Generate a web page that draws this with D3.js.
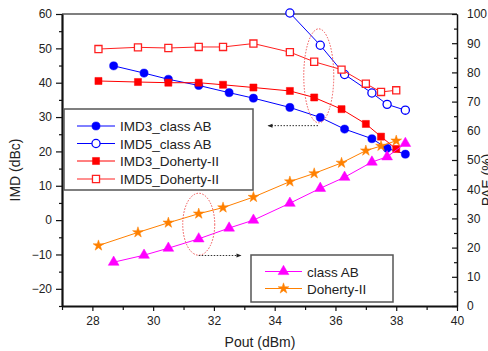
<!DOCTYPE html>
<html>
<head>
<meta charset="utf-8">
<script src="https://cdn.jsdelivr.net/npm/d3@7"></script>
<style>
  body { margin: 0; background: #fff; }
  svg { display: block; font-family: "Liberation Sans", Arial, sans-serif; }
  .axis text { font-size: 12px; fill: #222; }
</style>
</head>
<body>
<svg></svg>
<script>
// Pout sweep points (dBm)
const poutAB = [28.7, 29.7, 30.5, 31.5, 32.5, 33.3, 34.5, 35.5, 36.3, 37.2, 37.7, 38.3]
const poutDoh = [28.2, 29.5, 30.5, 31.5, 32.3, 33.3, 34.5, 35.3, 36.2, 37.0, 37.5, 38.0]
const poutAB5 = [34.5, 35.5, 36.3, 37.2, 37.7, 38.3]

// IMD (dBc)
const imd3AB = [44.9, 42.8, 41.0, 39.2, 37.1, 35.5, 32.8, 29.9, 26.5, 23.7, 20.9, 19.2]
const imd5AB = [60.3, 50.9, 42.4, 37.0, 33.7, 32.0]
const imd3Doh = [40.5, 40.2, 40.0, 40.0, 39.4, 38.6, 37.6, 35.7, 32.3, 28.0, 24.3, 20.7]
const imd5Doh = [49.8, 50.3, 50.1, 50.4, 50.4, 51.4, 48.9, 46.1, 43.8, 39.7, 37.3, 37.8]

// PAE (%)
const paeAB = [15.0, 17.4, 19.8, 23.0, 26.7, 29.4, 35.2, 40.3, 44.1, 49.3, 51.1, 55.7]
const paeDoh = [20.7, 25.2, 28.5, 31.6, 33.7, 37.3, 42.6, 45.4, 49.0, 53.2, 54.8, 56.6]

const xTicks = [28, 30, 32, 34, 36, 38, 40]
const yTicks = [-20, -10, 0, 10, 20, 30, 40, 50, 60]
const y2Ticks = [0, 10, 20, 30, 40, 50, 60, 70, 80, 90, 100]

const legend1 = ["IMD3_class AB", "IMD5_class AB", "IMD3_Doherty-II", "IMD5_Doherty-II"]
const legend2 = ["class AB", "Doherty-II"]

const width = 488, height = 351
const margin = { top: 14, right: 31, bottom: 45, left: 62 }

const svg = d3.select('svg').attr('width', width).attr('height', height)

const x = d3.scaleLinear().domain([27, 40]).range([margin.left, width - margin.right])
const y = d3.scaleLinear().domain([-25, 60]).range([height - margin.bottom, margin.top])
const y2 = d3.scaleLinear().domain([0, 100]).range([height - margin.bottom, margin.top])

const plotR = width - margin.right, plotB = height - margin.bottom

// top border
svg.append('line').attr('x1', margin.left).attr('x2', plotR)
    .attr('y1', margin.top).attr('y2', margin.top)
    .attr('stroke', '#555').attr('stroke-width', 1.5)

// minor ticks
const minor = (axis, vals) => axis.tickValues(vals).tickFormat('').tickSizeOuter(0)
svg.append('g').attr('class', 'axis').attr('transform', `translate(${margin.left},0)`)
    .call(minor(d3.axisLeft(y).tickSize(3), d3.range(-25, 61, 5).filter(v => v % 10 !== 0)))
svg.append('g').attr('class', 'axis').attr('transform', `translate(0,${plotB})`)
    .call(minor(d3.axisBottom(x).tickSize(4), d3.range(27, 40, 2)))
svg.append('g').attr('class', 'axis').attr('transform', `translate(${plotR},0)`)
    .call(minor(d3.axisRight(y2).tickSize(-3), d3.range(5, 100, 10)))

// major axes
const yAxis = svg.append('g').attr('class', 'axis').attr('transform', `translate(${margin.left},0)`)
    .call(d3.axisLeft(y).tickValues(yTicks).tickSize(6).tickSizeOuter(0).tickPadding(4))
const xAxis = svg.append('g').attr('class', 'axis').attr('transform', `translate(0,${plotB})`)
    .call(d3.axisBottom(x).tickValues(xTicks).tickSize(5).tickSizeOuter(0).tickPadding(5))
const y2Axis = svg.append('g').attr('class', 'axis').attr('transform', `translate(${plotR},0)`)
    .call(d3.axisRight(y2).tickValues(y2Ticks).tickSize(-5).tickSizeOuter(0).tickPadding(10))

svg.selectAll('.axis .domain').attr('stroke', '#111')
svg.selectAll('.axis line').attr('stroke', '#111').attr('stroke-width', 1.2)
yAxis.select('.domain').attr('stroke-width', 2.2)
xAxis.select('.domain').attr('stroke-width', 2.2)
y2Axis.select('.domain').attr('stroke-width', 1.5)

// axis titles
svg.append('text').attr('transform', `translate(20,170) rotate(-90)`)
    .attr('text-anchor', 'middle').attr('font-size', 14).attr('fill', '#222').text('IMD (dBc)')
svg.append('text').attr('x', 260).attr('y', 347)
    .attr('text-anchor', 'middle').attr('font-size', 14).attr('fill', '#222').text('Pout (dBm)')
svg.append('text').attr('transform', `translate(492,180) rotate(-90)`)
    .attr('text-anchor', 'middle').attr('font-size', 14).attr('fill', '#222').text('PAE (%)')

// series
const series = [
    { xs: poutAB, ys: imd3AB, sc: y, color: '#0000ff', sym: d3.symbolCircle, size: 52, open: false },
    { xs: poutAB5, ys: imd5AB, sc: y, color: '#0000ff', sym: d3.symbolCircle, size: 52, open: true },
    { xs: poutDoh, ys: imd3Doh, sc: y, color: '#ff0000', sym: d3.symbolSquare, size: 50, open: false },
    { xs: poutDoh, ys: imd5Doh, sc: y, color: '#ff2020', sym: d3.symbolSquare, size: 50, open: true },
    { xs: poutAB, ys: paeAB, sc: y2, color: '#ff00ff', sym: d3.symbolTriangle, size: 50, open: false },
    { xs: poutDoh, ys: paeDoh, sc: y2, color: '#ff8000', sym: d3.symbolStar, size: 36, open: false }
]

series.forEach(s => {
    const pts = s.xs.map((v, i) => [x(v), s.sc(s.ys[i])])
    svg.append('path').attr('d', d3.line()(pts))
        .attr('fill', 'none').attr('stroke', s.color).attr('stroke-width', 1)
    svg.append('g').selectAll('path').data(pts).join('path')
        .attr('transform', d => `translate(${d[0]},${d[1]})`)
        .attr('d', d3.symbol(s.sym, s.size))
        .attr('fill', s.open ? '#fff' : s.color)
        .attr('stroke', s.color).attr('stroke-width', s.open ? 1.3 : 0.5)
})

// annotations: dotted ellipses and arrows
const defs = svg.append('defs')
defs.append('marker').attr('id', 'arr')
    .attr('viewBox', '0 0 10 10').attr('refX', 9).attr('refY', 5)
    .attr('markerWidth', 6).attr('markerHeight', 5).attr('orient', 'auto')
    .append('path').attr('d', 'M0,1L10,5L0,9Z').attr('fill', '#222')

svg.append('ellipse').attr('cx', x(35.45)).attr('cy', y(42)).attr('rx', 15).attr('ry', 47)
    .attr('fill', 'none').attr('stroke', '#f05050').attr('stroke-width', 1).attr('stroke-dasharray', '1.5,1.5')
svg.append('line').attr('x1', 318).attr('y1', y(27.5)).attr('x2', 268).attr('y2', y(27.5))
    .attr('stroke', '#333').attr('stroke-width', 1).attr('stroke-dasharray', '1.5,1.5').attr('marker-end', 'url(#arr)')

svg.append('ellipse').attr('cx', x(31.5)).attr('cy', y2(28)).attr('rx', 16).attr('ry', 31)
    .attr('fill', 'none').attr('stroke', '#f05050').attr('stroke-width', 1).attr('stroke-dasharray', '1.5,1.5')
svg.append('line').attr('x1', x(31.5)).attr('y1', 255.5).attr('x2', 241).attr('y2', 255.5)
    .attr('stroke', '#333').attr('stroke-width', 1).attr('stroke-dasharray', '1.5,1.5').attr('marker-end', 'url(#arr)')

// legends
function drawLegend(x0, y0, w, h, items, rowY, lineX, textX) {
    const g = svg.append('g')
    g.append('rect').attr('x', x0).attr('y', y0).attr('width', w).attr('height', h)
        .attr('fill', '#fff').attr('stroke', '#555').attr('stroke-width', 1.5)
    items.forEach((it, i) => {
        const ry = rowY[i]
        g.append('line').attr('x1', lineX[0]).attr('x2', lineX[1]).attr('y1', ry).attr('y2', ry)
            .attr('stroke', it.s.color).attr('stroke-width', 1)
        g.append('path').attr('transform', `translate(${(lineX[0] + lineX[1]) / 2},${ry})`)
            .attr('d', d3.symbol(it.s.sym, it.s.size))
            .attr('fill', it.s.open ? '#fff' : it.s.color)
            .attr('stroke', it.s.color).attr('stroke-width', it.s.open ? 1.3 : 0.5)
        g.append('text').attr('x', textX).attr('y', ry + 5).attr('font-size', 13.5)
            .attr('fill', '#222').text(it.label)
    })
}

drawLegend(64, 109, 189, 81,
    legend1.map((l, i) => ({ label: l, s: series[i] })),
    [126, 143.5, 161, 179], [77, 115], 120)
drawLegend(251, 255, 142, 47,
    legend2.map((l, i) => ({ label: l, s: series[i + 4] })),
    [271.5, 288.5], [265, 302], 307)
</script>
</body>
</html>
